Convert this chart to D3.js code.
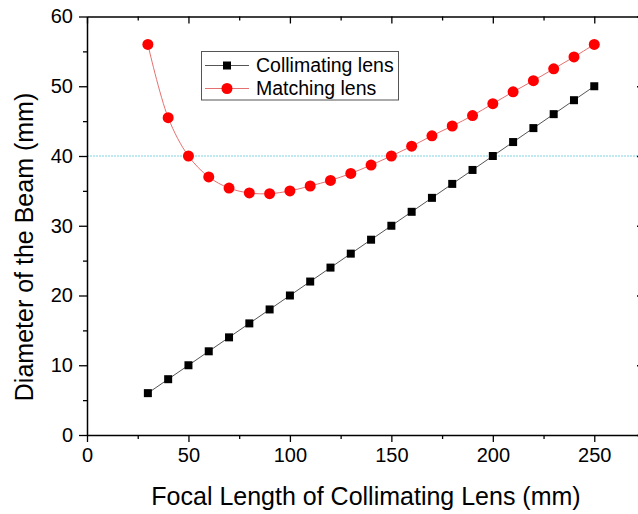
<!DOCTYPE html>
<html>
<head>
<meta charset="utf-8">
<script src="https://cdn.jsdelivr.net/npm/d3@7/dist/d3.min.js"></script>
<style>
  body { margin: 0; background: #fff; }
  svg { display: block; font-family: Arial, "Liberation Sans", sans-serif; }
</style>
</head>
<body>
<svg id="chart" width="638" height="514"></svg>
<script>
// focal length of the collimating lens (mm)
const focal = [30, 40, 50, 60, 70, 80, 90, 100, 110, 120, 130, 140, 150, 160, 170, 180, 190, 200, 210, 220, 230, 240, 250];
// beam diameter behind the collimating lens (mm)
const collimating = [6, 8, 10, 12, 14, 16, 18, 20, 22, 24, 26, 28, 30, 32, 34, 36, 38, 40, 42, 44, 46, 48, 50];
// beam diameter behind the matching lens (mm)
const matching = [56, 45.5, 40, 37, 35.4, 34.7, 34.6, 35, 35.7, 36.5, 37.5, 38.7, 40, 41.4, 42.9, 44.3, 45.8, 47.5, 49.2, 50.8, 52.5, 54.2, 56];
const xTicks = [0, 50, 100, 150, 200, 250];
const yTicks = [0, 10, 20, 30, 40, 50, 60];
const refLine = 40;

const svg = d3.select("#chart");
const m = { left: 87, top: 16.5, right: 645, bottom: 435 };

const x = d3.scaleLinear().domain([0, 275]).range([m.left, m.right]);
const y = d3.scaleLinear().domain([0, 60]).range([m.bottom, m.top]);

// dotted reference line at 40 mm
svg.append("line")
  .attr("x1", m.left).attr("x2", m.right)
  .attr("y1", y(refLine)).attr("y2", y(refLine))
  .attr("stroke", "#7fd4e2").attr("stroke-width", 1)
  .attr("stroke-dasharray", "2,1");

// axes: ticks outward on bottom/left, inward on top/right
const minorX = d3.range(25, 275, 50);
const minorY = d3.range(5, 60, 10);

function axisStyle(g) {
  g.select(".domain").attr("stroke", "#000").attr("stroke-width", 1.5);
  g.selectAll(".tick line").attr("stroke", "#000").attr("stroke-width", 1.3);
  g.selectAll("text").attr("fill", "#000").style("font-size", "20px");
}

svg.append("g").attr("transform", `translate(0,${m.bottom})`)
  .call(d3.axisBottom(x).tickValues(xTicks).tickSize(7).tickPadding(6).tickFormat(d3.format("d")).tickSizeOuter(0))
  .call(axisStyle)
  .call(g => g.selectAll("text").attr("dy", "0.71em"));
svg.append("g").attr("transform", `translate(0,${m.bottom})`)
  .call(d3.axisBottom(x).tickValues(minorX).tickSize(4).tickFormat("").tickSizeOuter(0))
  .call(axisStyle).call(g => g.select(".domain").remove());

svg.append("g").attr("transform", `translate(0,${m.top})`)
  .call(d3.axisBottom(x).tickValues(xTicks).tickSize(7).tickFormat("").tickSizeOuter(0))
  .call(axisStyle);
svg.append("g").attr("transform", `translate(0,${m.top})`)
  .call(d3.axisBottom(x).tickValues(minorX).tickSize(4).tickFormat("").tickSizeOuter(0))
  .call(axisStyle).call(g => g.select(".domain").remove());

svg.append("g").attr("transform", `translate(${m.left},0)`)
  .call(d3.axisLeft(y).tickValues(yTicks).tickSize(8).tickPadding(6).tickSizeOuter(0))
  .call(axisStyle);
svg.append("g").attr("transform", `translate(${m.left},0)`)
  .call(d3.axisLeft(y).tickValues(minorY).tickSize(4).tickFormat("").tickSizeOuter(0))
  .call(axisStyle).call(g => g.select(".domain").remove());

svg.append("g").attr("transform", `translate(${m.right},0)`)
  .call(d3.axisLeft(y).tickValues(yTicks).tickSize(8).tickFormat("").tickSizeOuter(0))
  .call(axisStyle);
svg.append("g").attr("transform", `translate(${m.right},0)`)
  .call(d3.axisLeft(y).tickValues(minorY).tickSize(4).tickFormat("").tickSizeOuter(0))
  .call(axisStyle).call(g => g.select(".domain").remove());

// series
const line = d3.line().x(d => x(d[0])).y(d => y(d[1]));
const colData = focal.map((f, i) => [f, collimating[i]]);
const matData = focal.map((f, i) => [f, matching[i]]);

svg.append("path").datum(colData).attr("d", line)
  .attr("fill", "none").attr("stroke", "#555").attr("stroke-width", 1);
svg.append("path").datum(matData).attr("d", d3.line().curve(d3.curveCatmullRom).x(d => x(d[0])).y(d => y(d[1])))
  .attr("fill", "none").attr("stroke", "#e57070").attr("stroke-width", 1);

svg.append("g").selectAll("rect").data(colData).join("rect")
  .attr("x", d => x(d[0]) - 4).attr("y", d => y(d[1]) - 4)
  .attr("width", 8).attr("height", 8).attr("fill", "#000");
svg.append("g").selectAll("circle").data(matData).join("circle")
  .attr("cx", d => x(d[0])).attr("cy", d => y(d[1]))
  .attr("r", 5.5).attr("fill", "#ff0000");

// axis titles
svg.append("text")
  .attr("x", (m.left + m.right) / 2).attr("y", 505)
  .attr("text-anchor", "middle").style("font-size", "25px")
  .text("Focal Length of Collimating Lens (mm)");
svg.append("text")
  .attr("transform", `translate(33,${(88 + 406) / 2}) rotate(-90)`)
  .attr("text-anchor", "middle").style("font-size", "25px")
  .text("Diameter of the Beam (mm)");

// legend
const lg = svg.append("g");
lg.append("rect").attr("x", 201.5).attr("y", 51.5).attr("width", 197).attr("height", 48.5)
  .attr("fill", "#fff").attr("stroke", "#555").attr("stroke-width", 1);
const items = [
  { label: "Collimating lens", color: "#555", mark: "square", yy: 65.5 },
  { label: "Matching lens", color: "#e57070", mark: "circle", yy: 88.5 }
];
items.forEach(it => {
  lg.append("line").attr("x1", 205).attr("x2", 249).attr("y1", it.yy).attr("y2", it.yy)
    .attr("stroke", it.color).attr("stroke-width", 1);
  if (it.mark === "square") {
    lg.append("rect").attr("x", 223).attr("y", it.yy - 4).attr("width", 8).attr("height", 8).attr("fill", "#000");
  } else {
    lg.append("circle").attr("cx", 227).attr("cy", it.yy).attr("r", 5.5).attr("fill", "#ff0000");
  }
  lg.append("text").attr("x", 256).attr("y", it.yy).attr("dy", "0.35em")
    .style("font-size", "19.5px").text(it.label);
});
</script>
</body>
</html>
